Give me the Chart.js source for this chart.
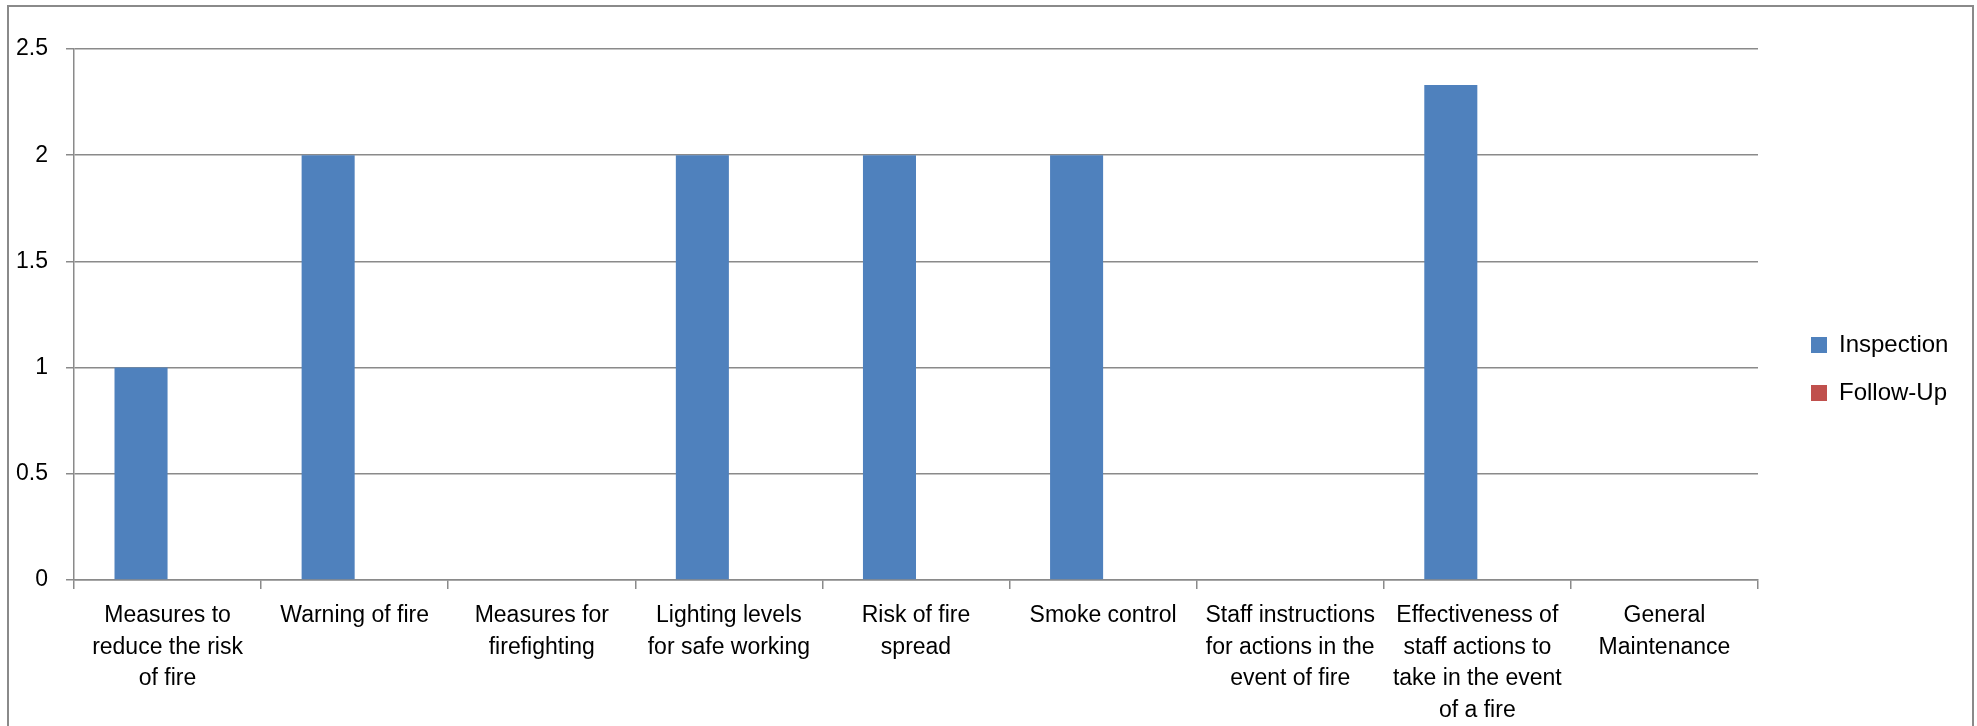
<!DOCTYPE html>
<html>
<head>
<meta charset="utf-8">
<title>Inspection and Follow-Up</title>
<script src="https://cdn.jsdelivr.net/npm/chart.js@4.4.1/dist/chart.umd.min.js"></script>
<style>
  html, body { margin: 0; padding: 0; background: #fff; overflow: hidden; }
  #wrap { position: relative; width: 1977px; height: 726px; }
  #frame { position: absolute; left: 7px; top: 5px; width: 1967px; height: 760px; border: 2px solid #8a8a8a; box-sizing: border-box; }
  #chart { position: absolute; left: 0; top: 0; }
</style>
</head>
<body>
<div id="wrap">
  <div id="frame"></div>
  <canvas id="chart" width="1977" height="726"></canvas>
</div>
<script>
// categories, wrapped the way the original axis shows them
const categories = [
    ['Measures to', 'reduce the risk', 'of fire'],
    ['Warning of fire'],
    ['Measures for', 'firefighting'],
    ['Lighting levels', 'for safe working'],
    ['Risk of fire', 'spread'],
    ['Smoke control'],
    ['Staff instructions', 'for actions in the', 'event of fire'],
    ['Effectiveness of', 'staff actions to', 'take in the event', 'of a fire'],
    ['General', 'Maintenance']
];
const inspection = [1, 2, 0, 2, 2, 2, 0, 2.33, 0];
const followUp = [0, 0, 0, 0, 0, 0, 0, 0, 0];
const yTicks = [0, 0.5, 1, 1.5, 2, 2.5];
const yTickLabels = ['0', '0.5', '1', '1.5', '2', '2.5'];

const gridColor = '#8a8a8a';
Chart.defaults.font.family = "'Liberation Sans', Arial, sans-serif";
Chart.defaults.color = '#000';

// keep the plot narrower than the legend box and put the legend where Excel had it
const legendPlacement = {
    id: 'legendPlacement',
    beforeLayout(chart) {
        const lg = chart.legend;
        if (!lg || lg._patched) return;
        const fit = lg.fit;
        lg.fit = function() {
            fit.call(this);
            this.width = 219;
        };
        lg._patched = true;
    },
    afterLayout(chart) {
        const lg = chart.legend;
        const dx = chart.chartArea.right + 29 - lg.left;
        const dy = 369 - (lg.top + lg.bottom) / 2;
        lg.left += dx; lg.right += dx;
        lg.top += dy; lg.bottom += dy;
    }
};

new Chart(document.getElementById('chart').getContext('2d'), {
    type: 'bar',
    data: {
        labels: categories,
        datasets: [
            { label: 'Inspection', data: inspection, backgroundColor: '#4F81BD', borderWidth: 0 },
            { label: 'Follow-Up', data: followUp, backgroundColor: '#C0504D', borderWidth: 0 }
        ]
    },
    options: {
        responsive: false,
        animation: false,
        layout: { padding: { top: 49, left: 0, right: 0, bottom: 0 } },
        datasets: { bar: { categoryPercentage: 0.567, barPercentage: 1 } },
        plugins: {
            legend: {
                position: 'right',
                labels: {
                    boxWidth: 16,
                    boxHeight: 16,
                    padding: 24,
                    color: '#000',
                    font: { size: 24 }
                }
            },
            tooltip: { enabled: false }
        },
        scales: {
            x: {
                grid: { drawOnChartArea: false, tickLength: 9, color: gridColor, lineWidth: 1.5 },
                border: { color: gridColor, width: 1.5 },
                ticks: {
                    font: { size: 23, lineHeight: 1.37 },
                    padding: 11,
                    maxRotation: 0,
                    autoSkip: false
                },
                afterFit(scale) { scale.height = 146; }
            },
            y: {
                min: 0,
                max: 2.5,
                grid: { color: gridColor, lineWidth: 1.5, tickLength: 8 },
                border: { color: gridColor, width: 1.5 },
                ticks: {
                    font: { size: 23 },
                    padding: 18,
                    callback: (value, i) => yTickLabels[i]
                },
                afterBuildTicks(scale) {
                    scale.ticks = yTicks.map(v => ({ value: v }));
                },
                afterFit(scale) { scale.width = 74; }
            }
        }
    },
    plugins: [legendPlacement]
});
</script>
</body>
</html>
